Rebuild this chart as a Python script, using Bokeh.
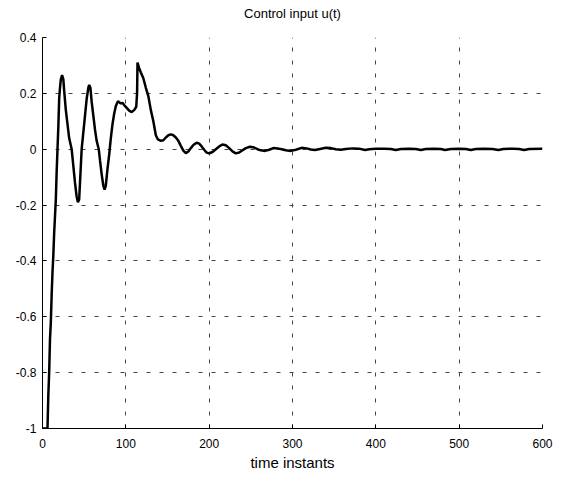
from bokeh.plotting import figure
from bokeh.models import Range1d, FixedTicker, LinearAxis
from bokeh.embed import file_html
from bokeh.resources import INLINE

# traced control signal u(t)
t = [0, 6, 7, 8, 9, 10, 11, 12, 13, 14, 15, 16, 17, 18, 19, 20, 21, 22, 23.5, 25,
     26, 28, 30, 32, 35, 37, 39, 41, 42.5, 44, 45, 46, 47, 49, 51, 53, 55, 56, 57.5, 59,
     61, 63, 65, 67.5, 69, 71, 73, 74.5, 76, 77, 78, 80, 82, 84, 86, 88, 90.5, 92, 94, 96,
     98, 101, 104, 107, 110, 112.5, 113.5, 114, 116, 118, 121, 124, 127, 130, 133, 136, 138.5, 142, 145, 148,
     151, 154, 157, 160, 163, 166, 169, 172, 175, 178, 181, 185, 188, 191, 194, 197, 200, 204, 208, 212,
     216, 220, 224, 228, 232, 236, 240, 244, 249, 254, 258, 262, 267, 272, 277, 282, 287, 292, 298, 304,
     311, 317, 322, 327, 333, 340, 346, 352, 358, 364, 372, 380, 387, 392, 400, 410, 418, 424, 430, 440,
     448, 454, 460, 470, 478, 483, 490, 500, 508, 514, 520, 530, 540, 547, 553, 565, 572, 578, 584, 600]
u = [-1.0, -1.0, -0.88, -0.80, -0.68, -0.62, -0.52, -0.44, -0.38, -0.30, -0.24, -0.18, -0.08, 0.0, 0.08, 0.18, 0.22, 0.25, 0.265, 0.25,
     0.21, 0.14, 0.09, 0.04, 0.0, -0.06, -0.12, -0.17, -0.19, -0.18, -0.12, -0.06, 0.0, 0.06, 0.12, 0.18, 0.22, 0.23, 0.22, 0.17,
     0.12, 0.07, 0.03, 0.0, -0.04, -0.09, -0.13, -0.145, -0.13, -0.10, -0.07, -0.02, 0.04, 0.09, 0.127, 0.155, 0.172, 0.168, 0.164, 0.166,
     0.158, 0.148, 0.138, 0.133, 0.14, 0.152, 0.2, 0.31, 0.29, 0.275, 0.254, 0.22, 0.19, 0.14, 0.1, 0.05, 0.035, 0.03, 0.032, 0.042,
     0.05, 0.053, 0.05, 0.042, 0.03, 0.012, -0.005, -0.014, -0.008, 0.004, 0.015, 0.023, 0.02, 0.01, -0.002, -0.012, -0.015, -0.01, 0.0, 0.01,
     0.017, 0.014, 0.004, -0.008, -0.015, -0.012, -0.004, 0.004, 0.009, 0.006, 0.0, -0.004, -0.006, -0.002, 0.004, 0.003, 0.0, -0.004, -0.006, -0.002,
     0.005, 0.003, -0.001, -0.003, 0.001, 0.005, 0.004, 0.0, -0.002, 0.001, 0.003, 0.002, -0.003, 0.0, 0.002, 0.002, 0.001, -0.003, 0.001, 0.002,
     0.001, -0.003, 0.001, 0.002, 0.001, -0.003, 0.001, 0.002, 0.001, -0.003, 0.001, 0.002, 0.001, -0.003, 0.001, 0.002, 0.001, -0.003, 0.001, 0.002]

x_ticks = [0, 100, 200, 300, 400, 500, 600]
y_ticks = [-1, -0.8, -0.6, -0.4, -0.2, 0, 0.2, 0.4]
y_tick_labels = ["-1", "-0.8", "-0.6", "-0.4", "-0.2", "0", "0.2", "0.4"]
title_text = "Control input u(t)"

FONT = "Liberation Sans"

p = figure(width=564, height=473, output_backend="svg", toolbar_location=None,
           x_range=Range1d(0, 600), y_range=Range1d(-1, 0.4),
           min_border_left=42, min_border_right=22, min_border_top=37, min_border_bottom=45)
p.outline_line_color = None
p.background_fill_color = "white"
p.border_fill_color = "white"

p.line(t, u, line_color="black", line_width=2.5)

bottom = p.below[0]
left = p.left[0]

# title drawn as the label of an empty axis above the plot
top = LinearAxis(ticker=FixedTicker(ticks=[]), axis_label=title_text)
top.axis_line_color = None
top.major_tick_line_color = None
top.minor_tick_line_color = None
top.major_label_text_font_size = "0px"
top.axis_label_text_font = FONT
top.axis_label_text_font_size = "13px"
top.axis_label_text_font_style = "normal"
top.axis_label_text_color = "black"
top.axis_label_standoff = 17
p.add_layout(top, "above")

for ax in (bottom, left):
    ax.axis_line_color = "black"
    ax.axis_line_width = 1
    ax.major_tick_in = 4
    ax.major_tick_out = 0
    ax.minor_tick_line_color = None
    ax.major_tick_line_color = "black"
    ax.major_label_text_font = FONT
    ax.major_label_text_font_size = "12px"
    ax.major_label_text_color = "black"

bottom.ticker = FixedTicker(ticks=x_ticks)
bottom.major_label_overrides = {v: str(v) for v in x_ticks}
bottom.major_label_standoff = 10
bottom.axis_label = "time instants"
bottom.axis_label_text_font = FONT
bottom.axis_label_text_font_size = "15px"
bottom.axis_label_text_font_style = "normal"
bottom.axis_label_text_color = "black"
bottom.axis_label_standoff = 3

left.ticker = FixedTicker(ticks=y_ticks)
left.major_label_overrides = dict(zip(y_ticks, y_tick_labels))
left.major_label_standoff = 6

for g in (p.xgrid[0], p.ygrid[0]):
    g.grid_line_color = "#444444"
    g.grid_line_width = 1
    g.grid_line_dash = "4 9"

open("out.html", "w").write(file_html(p, INLINE))
